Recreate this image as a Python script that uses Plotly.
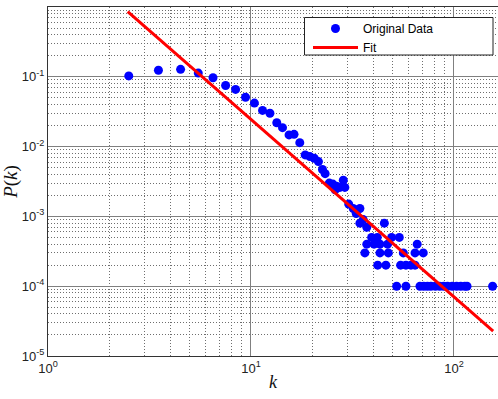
import plotly.graph_objects as go

# ---- data ----
k_data = [2.5, 3.5, 4.5, 5.5, 6.5, 7.5, 8.4, 9.4, 10.4, 11.4, 12.4, 13.4, 14.3, 15.4, 16.3,
          17.4, 18.5, 19.5, 20.5, 21.5, 22.5, 23.2, 24.3, 25.3, 26.0, 26.4, 27.4, 28.5, 29.0,
          30.3, 31.9, 33.0, 34.4, 34.4, 35.7, 37.2, 45.4,
          39.3, 41.9, 49.3, 53.8,
          37.2, 40.4, 43.2, 47.1, 65.9,
          36.4, 43.2, 47.5, 56.3, 64.3, 70.6,
          42.1, 46.2, 54.6, 58.0, 61.4, 64.3,
          52.2, 58.0, 68, 71, 74, 77, 81, 85, 89, 93, 98, 103, 108, 113, 116, 155]
p_data = [0.103, 0.124, 0.128, 0.113, 0.097, 0.075, 0.066, 0.051, 0.042, 0.033, 0.030, 0.022,
          0.0187, 0.0147, 0.0150, 0.0114, 0.0076, 0.0072, 0.0068, 0.0061, 0.0047, 0.0041,
          0.0030, 0.0029, 0.0024, 0.0027, 0.0026, 0.0033, 0.0026,
          0.0015, 0.0013, 0.0011, 0.0013, 0.0008, 0.0009, 0.0007, 0.0008,
          5e-4, 5e-4, 5e-4, 5e-4,
          4e-4, 4e-4, 4e-4, 4e-4, 4e-4,
          3e-4, 3e-4, 3e-4, 3e-4, 3e-4, 3e-4,
          2e-4, 2e-4, 2e-4, 2e-4, 2e-4, 2e-4,
          1e-4, 1e-4, 1e-4, 1e-4, 1e-4, 1e-4, 1e-4, 1e-4, 1e-4, 1e-4, 1e-4, 1e-4, 1e-4,
          1e-4, 1e-4, 1e-4]

fit_k = [2.47, 156]
fit_p = [0.857, 2.28e-5]

x_tickvals = [1, 10, 100]
x_ticktext = ['10<sup>0</sup>', '10<sup>1</sup>', '10<sup>2</sup>']
y_tickvals = [1e-5, 1e-4, 1e-3, 1e-2, 1e-1, 1]
y_ticktext = ['10<sup>-5</sup>', '10<sup>-4</sup>', '10<sup>-3</sup>',
              '10<sup>-2</sup>', '10<sup>-1</sup>', '10<sup>0</sup>']
x_minor = [m * d for d in (1, 10, 100) for m in range(2, 10)]
y_minor = [m * d for d in (1e-5, 1e-4, 1e-3, 1e-2, 1e-1) for m in range(2, 10)]

fig = go.Figure()
fig.add_trace(go.Scatter(x=k_data, y=p_data, mode='markers', name='Original Data',
                         marker=dict(color='#0000FF', size=9, line=dict(width=0)),
                         cliponaxis=False))
fig.add_trace(go.Scatter(x=fit_k, y=fit_p, mode='lines', name='Fit',
                         line=dict(color='#FF0000', width=3)))

axis_font = dict(family='Liberation Sans, Arial, sans-serif', size=13, color='#222222')
grid_major = '#808080'
grid_minor = '#6e6e6e'
minor_dash = '1px,2px'

fig.update_xaxes(type='log', range=[0, 2.217], tickmode='array', tickvals=x_tickvals,
                 ticktext=x_ticktext, tickfont=axis_font, showgrid=True, gridcolor=grid_major,
                 gridwidth=1, showline=True, linecolor='#333333', linewidth=1, mirror=True,
                 zeroline=False, ticks='', automargin=False,
                 minor=dict(tickmode='array', tickvals=x_minor, showgrid=True,
                            gridcolor=grid_minor, griddash=minor_dash, gridwidth=1),
                 title=dict(text='<i>k</i>', font=dict(family='Liberation Serif, Times New Roman, serif',
                                                      size=18, color='#111111'), standoff=0))
fig.update_yaxes(type='log', range=[-5, 0], tickmode='array', tickvals=y_tickvals,
                 ticktext=y_ticktext, tickfont=axis_font, showgrid=True, gridcolor=grid_major,
                 gridwidth=1, showline=True, linecolor='#333333', linewidth=1, mirror=False,
                 zeroline=False, ticks='', automargin=False,
                 minor=dict(tickmode='array', tickvals=y_minor, showgrid=True,
                            gridcolor=grid_minor, griddash=minor_dash, gridwidth=1),
                 title=dict(text='<i>P</i>(<i>k</i>)', font=dict(family='Liberation Serif, Times New Roman, serif',
                                                                size=19, color='#111111'), standoff=2))

W, H = 498, 399
ml, mr, mt, mb = 48, 0, 7, 43
pw, ph = W - ml - mr, H - mt - mb

def px_x(p):
    return (p - ml) / pw

def px_y(p):
    return 1 - (p - mt) / ph

fig.add_shape(type='rect', xref='paper', yref='paper', x0=px_x(304.5), x1=px_x(493),
              y0=px_y(55), y1=px_y(17.5), fillcolor='white', line=dict(color='#222222', width=1),
              layer='above')

fig.update_layout(
    width=W, height=H, autosize=False,
    margin=dict(l=ml, r=mr, t=mt, b=mb, autoexpand=False),
    paper_bgcolor='white', plot_bgcolor='white',
    showlegend=True,
    legend=dict(x=px_x(308), y=px_y(14), xanchor='left', yanchor='top',
                bgcolor='rgba(0,0,0,0)', borderwidth=0, itemwidth=45, tracegroupgap=0,
                font=dict(family='Liberation Sans, Arial, sans-serif', size=12, color='black')),
)

fig.write_html('out.html', config={'displayModeBar': False},
               post_script="document.body.style.margin='0';document.body.style.padding='0';"
                           "document.body.style.overflow='hidden';")
